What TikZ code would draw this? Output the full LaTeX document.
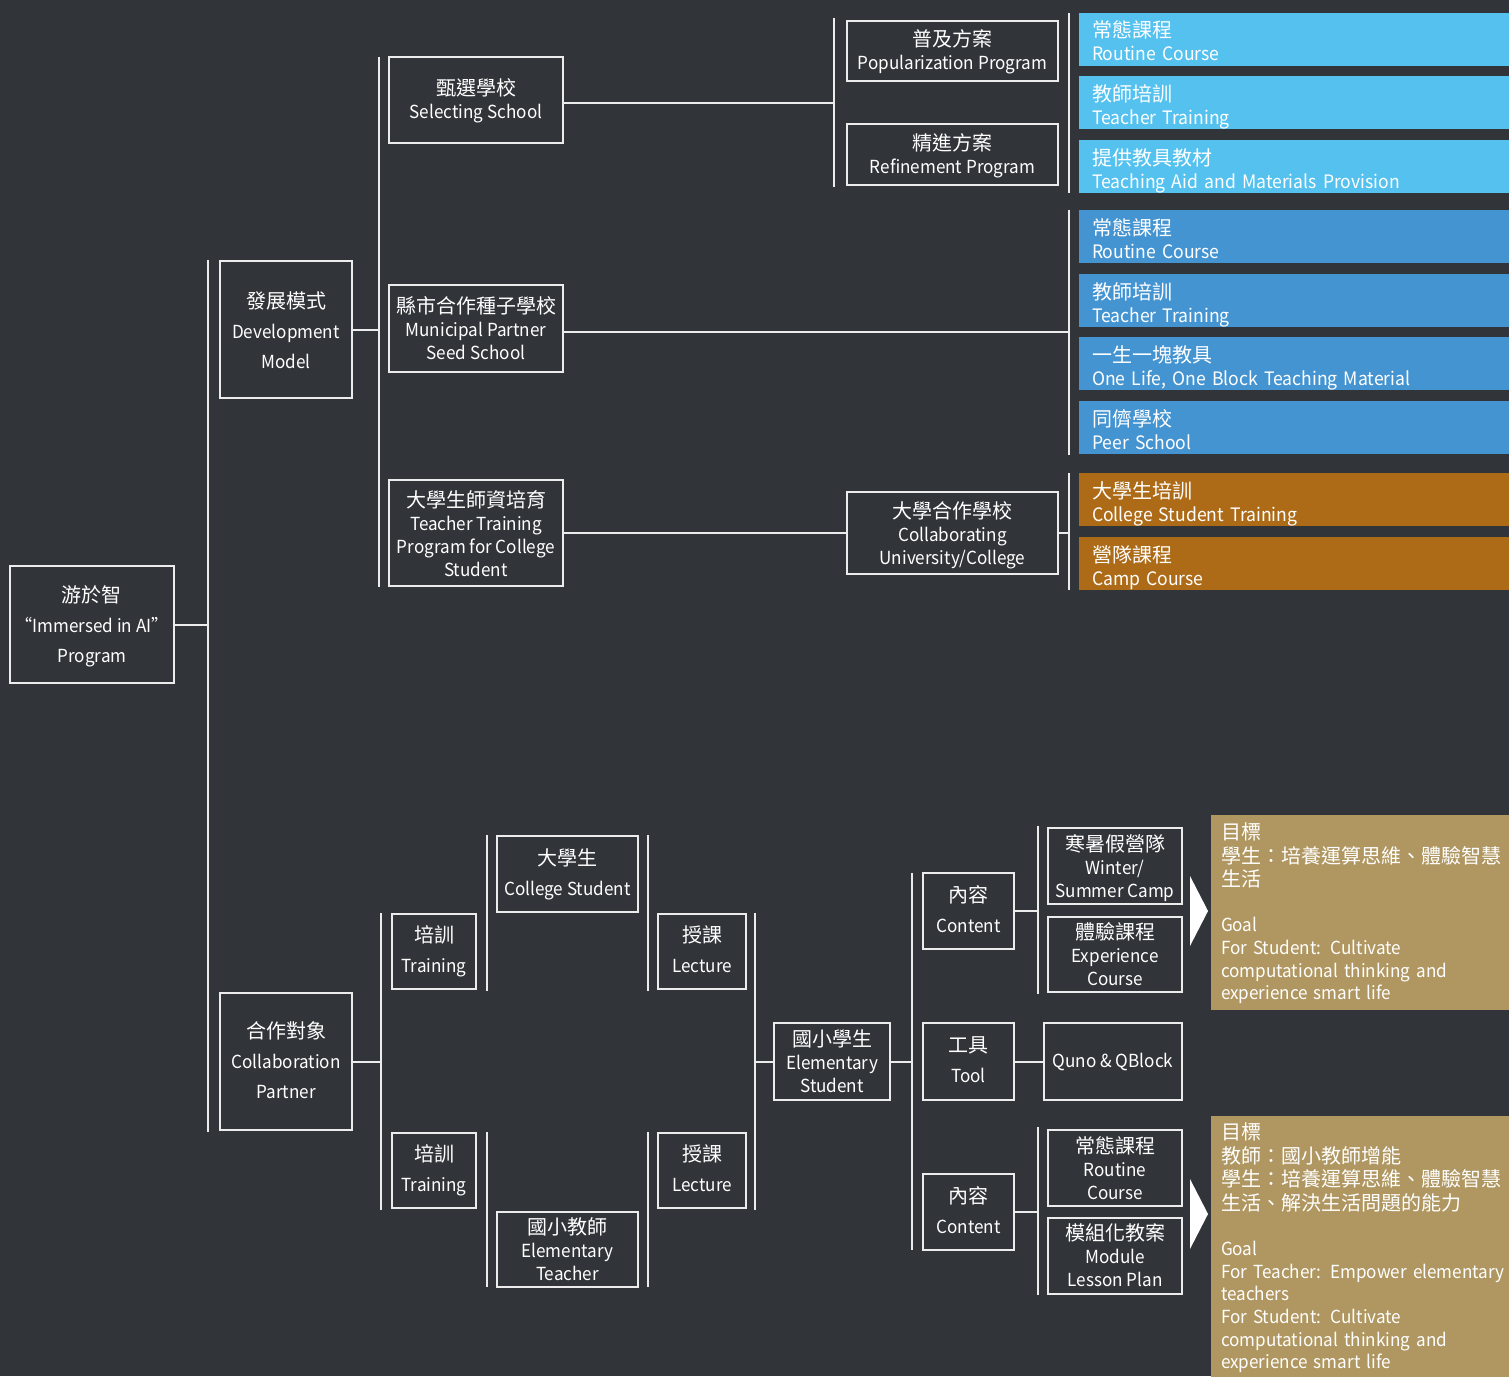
\documentclass[tikz,border=0pt]{standalone}
\usepackage{fontspec}
\setmainfont{Noto Sans CJK TC}[FakeStretch=0.95]
\newfontfamily\cjk{Noto Sans CJK TC}
\definecolor{bg}{HTML}{313539}
\definecolor{lblue}{HTML}{54C1EF}
\definecolor{mblue}{HTML}{4594D2}
\definecolor{ochre}{HTML}{AD6B18}
\definecolor{tanc}{HTML}{B09761}
\definecolor{ln}{HTML}{ECECEC}
\newcommand\C[1]{{\cjk\fontsize{20}{23}\selectfont #1}}
\newcommand\tc[2][-3pt]{\raisebox{#1}[\height][\depth]{\begin{tabular}{@{}c@{}}#2\end{tabular}}}
\newcommand\tlft[2][-5.5pt]{\raisebox{#1}[\height][\depth]{\begin{tabular}{@{}l@{}}#2\end{tabular}}}
\begin{document}
\begin{tikzpicture}[x=1pt,y=-1pt,
  wbox/.style={draw=ln, line width=2pt, text=white, inner sep=0pt, font={\fontsize{18}{23}\selectfont}},
  widebox/.style={wbox, font={\fontsize{18}{30}\selectfont}},
  cbox/.style={fill=#1, text=white, inner xsep=13pt, inner ysep=0pt, text width=405pt, minimum height=53pt, font={\fontsize{18.5}{23}\selectfont}},
  goalbox/.style={fill=tanc, text=white, inner xsep=10pt, inner ysep=0pt, text width=278pt, font={\fontsize{18}{22.6}\selectfont}},
  conn/.style={draw=ln, line width=2pt},
  tri/.style={fill=white, draw=none}
]
\fill[bg] (0,0) rectangle (1509,1376);
\useasboundingbox (0,0) rectangle (1509,1376);

% ---------- white boxes ----------
\node[widebox, minimum width=164, minimum height=117] (root) at (92,624.5) {\tc[-2pt]{\C{游於智}\\“Immersed in AI”\\Program}};
\node[widebox, minimum width=132, minimum height=137] (dev) at (286,329.5) {\tc[-3pt]{\C{發展模式}\\Development\\Model}};
\node[wbox, minimum width=174, minimum height=86] (sel) at (476,100) {\tc[-2pt]{\C{甄選學校}\\Selecting School}};
\node[wbox, minimum width=174, minimum height=87] (mun) at (476,328.5) {\tc{\C{縣市合作種子學校}\\Municipal Partner\\Seed School}};
\node[wbox, minimum width=174, minimum height=106] (ttp) at (476,533) {\tc[-4pt]{\C{大學生師資培育}\\Teacher Training\\Program for College\\Student}};
\node[wbox, minimum width=211, minimum height=60] (pop) at (952.5,51) {\tc[-2pt]{\C{普及方案}\\Popularization Program}};
\node[wbox, minimum width=211, minimum height=61] (ref) at (952.5,154.5) {\tc[-2pt]{\C{精進方案}\\Refinement Program}};
\node[wbox, minimum width=211, minimum height=82] (col) at (952.5,533) {\tc{\C{大學合作學校}\\Collaborating\\University/College}};

\node[widebox, minimum width=132, minimum height=137] (cp) at (286,1061.5) {\tc[-1pt]{\C{合作對象}\\Collaboration\\Partner}};
\node[widebox, minimum width=84, minimum height=75] (tr1) at (434,951.5) {\tc[0pt]{\C{培訓}\\Training}};
\node[widebox, minimum width=84, minimum height=75] (tr2) at (434,1170.5) {\tc[0pt]{\C{培訓}\\Training}};
\node[widebox, minimum width=141, minimum height=76] (cs) at (567.5,874) {\tc[0pt]{\C{大學生}\\College Student}};
\node[wbox, minimum width=141, minimum height=75] (et) at (567.5,1249.5) {\tc{\C{國小教師}\\Elementary\\Teacher}};
\node[widebox, minimum width=88, minimum height=75] (lc1) at (702,951.5) {\tc[0pt]{\C{授課}\\Lecture}};
\node[widebox, minimum width=88, minimum height=75] (lc2) at (702,1170.5) {\tc[0pt]{\C{授課}\\Lecture}};
\node[wbox, minimum width=116, minimum height=77] (es) at (832,1061.5) {\tc{\C{國小學生}\\Elementary\\Student}};
\node[widebox, minimum width=91, minimum height=76] (ct1) at (968.5,911) {\tc[0pt]{\C{內容}\\Content}};
\node[widebox, minimum width=91, minimum height=77] (tool) at (968.5,1061.5) {\tc[0pt]{\C{工具}\\Tool}};
\node[widebox, minimum width=91, minimum height=76] (ct2) at (968.5,1212) {\tc[0pt]{\C{內容}\\Content}};
\node[wbox, minimum width=134, minimum height=76] (win) at (1115,866) {\tc{\C{寒暑假營隊}\\Winter/\\Summer Camp}};
\node[wbox, minimum width=134, minimum height=75] (exp) at (1115,954.5) {\tc{\C{體驗課程}\\Experience\\Course}};
\node[wbox, minimum width=138, minimum height=77] (quno) at (1113,1061.5) {Quno \& QBlock};
\node[wbox, minimum width=134, minimum height=76] (rc) at (1115,1168) {\tc{\C{常態課程}\\Routine\\Course}};
\node[wbox, minimum width=134, minimum height=76] (mod) at (1115,1256) {\tc{\C{模組化教案}\\Module\\Lesson Plan}};

% ---------- coloured boxes ----------
\node[cbox=lblue] (lb1) at (1294.5,39) {\tlft{\C{常態課程}\\Routine Course}};
\node[cbox=lblue] (lb2) at (1294.5,102.5) {\tlft{\C{教師培訓}\\Teacher Training}};
\node[cbox=lblue] (lb3) at (1294.5,166.5) {\tlft{\C{提供教具教材}\\Teaching Aid and Materials Provision}};
\node[cbox=mblue] (mb1) at (1294.5,236.5) {\tlft{\C{常態課程}\\Routine Course}};
\node[cbox=mblue] (mb2) at (1294.5,300.5) {\tlft{\C{教師培訓}\\Teacher Training}};
\node[cbox=mblue] (mb3) at (1294.5,363.5) {\tlft{\C{一生一塊教具}\\One Life, One Block Teaching Material}};
\node[cbox=mblue] (mb4) at (1294.5,427.5) {\tlft{\C{同儕學校}\\Peer School}};
\node[cbox=ochre] (ob1) at (1294.5,499.5) {\tlft{\C{大學生培訓}\\College Student Training}};
\node[cbox=ochre] (ob2) at (1294.5,563.5) {\tlft{\C{營隊課程}\\Camp Course}};

\node[goalbox, minimum height=195] (g1) at (1360,912.5) {\tlft[-2pt]{\C{目標}\\\C{學生：培養運算思維、體驗智慧}\\\C{生活}\\ \\Goal\\For Student: Cultivate\\computational thinking and\\experience smart life}};
\node[goalbox, minimum height=262] (g2) at (1360,1247) {\tlft[-2pt]{\C{目標}\\\C{教師：國小教師增能}\\\C{學生：培養運算思維、體驗智慧}\\\C{生活、解決生活問題的能力}\\ \\Goal\\For Teacher: Empower elementary\\teachers\\For Student: Cultivate\\computational thinking and\\experience smart life}};

% ---------- arrows ----------
\fill[tri] (1190,876) -- (1208,911) -- (1190,946) -- cycle;
\fill[tri] (1190,1179) -- (1208,1214) -- (1190,1249) -- cycle;

% ---------- spines ----------
\coordinate (v1a) at (208,260);  \coordinate (v1b) at (208,1132);
\coordinate (v2a) at (379,57);   \coordinate (v2b) at (379,587);
\coordinate (v3a) at (834,18);   \coordinate (v3b) at (834,187);
\coordinate (v4a) at (1069,13);  \coordinate (v4b) at (1069,193);
\coordinate (v5a) at (1069,210); \coordinate (v5b) at (1069,455);
\coordinate (v6a) at (1069,473); \coordinate (v6b) at (1069,590);
\coordinate (v7a) at (381,913);  \coordinate (v7b) at (381,1210);
\coordinate (v8a) at (487,835);  \coordinate (v8b) at (487,991);
\coordinate (v9a) at (487,1132); \coordinate (v9b) at (487,1287);
\coordinate (v10a) at (648,835); \coordinate (v10b) at (648,991);
\coordinate (v11a) at (648,1132);\coordinate (v11b) at (648,1287);
\coordinate (v12a) at (755,913); \coordinate (v12b) at (755,1210);
\coordinate (v13a) at (912,873); \coordinate (v13b) at (912,1250);
\coordinate (v14a) at (1038,826);\coordinate (v14b) at (1038,994);
\coordinate (v15a) at (1038,1127);\coordinate (v15b) at (1038,1295);
\foreach \s in {v1,v2,v3,v4,v5,v6,v7,v8,v9,v10,v11,v12,v13,v14,v15}
  \draw[conn] (\s a) -- (\s b);

% ---------- connectors ----------
\draw[conn] (root.east) -- (root.east -| v1a);
\draw[conn] (dev.east) -- (dev.east -| v2a);
\draw[conn] ([yshift=-3pt]sel.east) -- ([yshift=-3pt]sel.east -| v3a);
\draw[conn] ([yshift=-3.5pt]mun.east) -- ([yshift=-3.5pt]mun.east -| v5a);
\draw[conn] (ttp.east) -- (col.west);
\draw[conn] (col.east) -- (col.east -| v6a);
\draw[conn] (cp.east) -- (cp.east -| v7a);
\draw[conn] (es.west -| v12a) -- (es.west);
\draw[conn] (es.east) -- (es.east -| v13a);
\draw[conn] (ct1.east) -- (ct1.east -| v14a);
\draw[conn] (tool.east) -- (quno.west);
\draw[conn] (ct2.east) -- (ct2.east -| v15a);
\end{tikzpicture}
\end{document}
